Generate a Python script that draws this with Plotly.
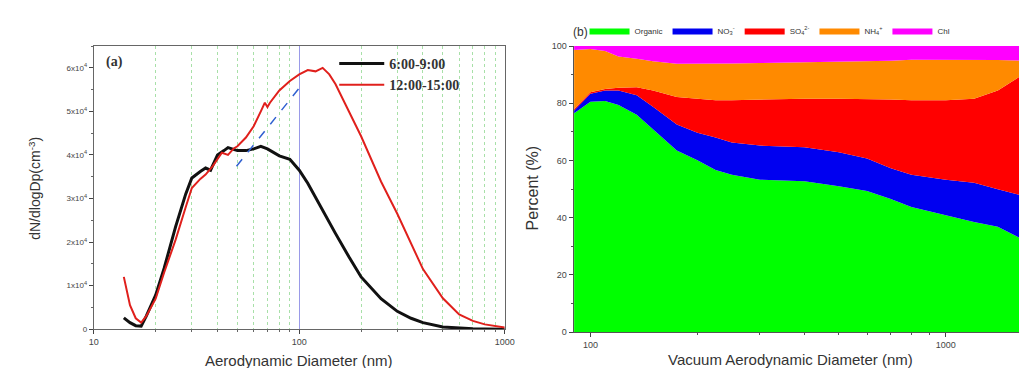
import plotly.graph_objects as go

# ---------------- Panel (a) data ----------------
black_d = [14, 15, 16, 17, 18, 20, 22, 25, 28, 30, 33, 35, 37, 40, 43, 45, 50, 55, 60, 65, 70, 75,
           80, 90, 100, 110, 120, 130, 150, 175, 200, 250, 300, 350, 400, 500, 600, 700, 800, 1000]
black_n = [2600, 1500, 800, 700, 3000, 7800, 14000, 23500, 31000, 34700, 36200, 37000, 36500, 40000,
           41000, 41700, 41000, 41000, 41400, 42000, 41400, 40500, 39800, 39000, 36500, 33500, 30200,
           27200, 22000, 16500, 12000, 7000, 4100, 2500, 1500, 500, 200, 100, 50, 0]

red_d = [14, 14.5, 15, 16, 17, 18, 20, 22, 25, 28, 30, 33, 35, 38, 40, 42, 45, 48, 50, 55, 60, 63, 65,
         68, 70, 72, 75, 80, 90, 100, 110, 120, 130, 140, 150, 175, 200, 250, 300, 400, 500, 600, 700,
         800, 900, 1000]
red_n = [12000, 8500, 5500, 2500, 1500, 3000, 7000, 13000, 20500, 28000, 32400, 34500, 35500, 37500,
         39000, 40500, 40000, 41500, 42000, 44000, 46600, 48500, 50000, 52000, 51000, 52000, 53000,
         54800, 57000, 58500, 59500, 59200, 60000, 58500, 56300, 50000, 44300, 33900, 26500, 13800,
         7100, 3400, 1900, 1100, 700, 400]

fit_d = [49.5, 105]
fit_n = [37400, 56600]

a_yticks = [0, 10000, 20000, 30000, 40000, 50000, 60000]
a_yticktext = ["0", "1x10<sup>4</sup>", "2x10<sup>4</sup>", "3x10<sup>4</sup>",
               "4x10<sup>4</sup>", "5x10<sup>4</sup>", "6x10<sup>4</sup>"]
a_xticks = [10, 100, 1000]
a_minor_grid = [20, 30, 40, 50, 60, 70, 80, 90, 200, 300, 400, 500, 600, 700, 800, 900]

# ---------------- Panel (b) data ----------------
vad = [90, 100, 110, 120, 135, 150, 175, 200, 225, 250, 300, 400, 500, 600, 700, 800, 1000, 1200,
       1400, 1650]
organic = [76.5, 80.5, 80.8, 79.4, 76.0, 70.9, 63.5, 60.1, 56.7, 55.0, 53.3, 52.7, 51.0, 49.3, 46.5,
           43.7, 40.8, 38.5, 36.8, 32.3]
no3 = [1.0, 2.8, 3.7, 5.1, 6.8, 7.9, 9.1, 9.6, 11.3, 11.3, 11.9, 11.9, 11.9, 11.4, 10.8, 11.3, 12.5,
       13.7, 13.1, 15.3]
so4 = [0.5, 0.6, 0.5, 0.9, 2.8, 5.7, 9.6, 11.9, 13.1, 14.8, 16.1, 17.0, 18.7, 20.6, 24.0, 26.1, 27.8,
       29.4, 34.6, 42.5]
nh4 = [20.6, 15.1, 13.3, 11.0, 10.0, 10.2, 11.6, 12.2, 12.8, 12.8, 12.8, 12.7, 13.1, 13.5, 13.6,
       14.1, 14.1, 13.6, 10.6, 4.8]
chl = [1.4, 1.0, 1.7, 3.6, 4.4, 5.3, 6.2, 6.2, 6.1, 6.1, 5.9, 5.7, 5.3, 5.2, 5.1, 4.8, 4.8, 4.8, 4.9,
       5.1]

b_species = ["Organic", "NO<sub>3</sub><sup>-</sup>", "SO<sub>4</sub><sup>2-</sup>",
             "NH<sub>4</sub><sup>+</sup>", "Chl"]
b_values = [organic, no3, so4, nh4, chl]
b_colors = ["#00FF00", "#0000F0", "#FF0000", "#FF8A00", "#FF00FF"]

SANS = "Liberation Sans, Arial, sans-serif"
SERIF = "Liberation Serif, Times New Roman, serif"

fig = go.Figure()

fig.add_trace(go.Scatter(x=black_d, y=black_n, mode="lines", name="<b>6:00-9:00</b>",
                         line=dict(color="#111111", width=3), xaxis="x", yaxis="y", legend="legend"))
fig.add_trace(go.Scatter(x=red_d, y=red_n, mode="lines", name="<b>12:00-15:00</b>",
                         line=dict(color="#E0201C", width=2), xaxis="x", yaxis="y", legend="legend"))
fig.add_trace(go.Scatter(x=fit_d, y=fit_n, mode="lines", showlegend=False,
                         line=dict(color="#3060D0", width=1.5, dash="dash"), xaxis="x", yaxis="y"))

for name, vals, col in zip(b_species, b_values, b_colors):
    fig.add_trace(go.Scatter(x=vad, y=vals, name=name, mode="lines", stackgroup="b",
                             line=dict(width=0, color=col), fillcolor=col,
                             xaxis="x2", yaxis="y2", legend="legend2"))

fig.update_layout(
    width=1027, height=368,
    margin=dict(l=0, r=0, t=0, b=0),
    paper_bgcolor="white", plot_bgcolor="white",
    font=dict(family=SANS, size=9, color="#333333"),
    xaxis=dict(domain=[82/1027, 499/1027], type="log", range=[1, 3], anchor="y",
               tickvals=a_xticks, ticktext=["10", "100", "1000"], ticks="outside", ticklen=4,
               showline=True, linecolor="#666666", linewidth=1.2, mirror=True,
               showgrid=True, gridcolor="#9A9AE8", gridwidth=1, zeroline=False,
               minor=dict(tickvals=a_minor_grid, showgrid=True, gridcolor="#A8E0A8",
                          griddash="dot", gridwidth=1, ticks="outside", ticklen=2,
                          tickcolor="#666666"),
               tickfont=dict(size=9, color="#444444")),
    yaxis=dict(domain=[43/368, 334/368], range=[0, 65000], anchor="x",
               tickvals=a_yticks, ticktext=a_yticktext, ticks="outside", ticklen=4,
               showline=True, linecolor="#666666", linewidth=1.2, mirror=True,
               showgrid=False, zeroline=False,
               minor=dict(dtick=5000, ticks="outside", ticklen=2, tickcolor="#666666"),
               tickfont=dict(size=8, color="#444444")),
    xaxis2=dict(domain=[569/1027, 1.0], type="log", range=[1.953, 3.2226], anchor="y2",
                tickvals=[100, 1000], ticktext=["100", "1000"], ticks="outside", ticklen=4,
                showline=True, linecolor="#555555", linewidth=1.2,
                showgrid=False, zeroline=False,
                minor=dict(tickvals=[200, 300, 400, 500, 600, 700, 800, 900],
                           ticks="outside", ticklen=2, tickcolor="#555555"),
                tickfont=dict(size=9, color="#444444")),
    yaxis2=dict(domain=[40/368, 334/368], range=[0, 100], anchor="x2",
                tickvals=[0, 20, 40, 60, 80, 100], ticks="outside", ticklen=4,
                showline=True, linecolor="#555555", linewidth=1.2,
                showgrid=False, zeroline=False,
                minor=dict(dtick=10, ticks="outside", ticklen=2, tickcolor="#555555"),
                tickfont=dict(size=9, color="#444444")),
    legend=dict(x=326/1027, y=1 - 36/368, xanchor="left", yanchor="top",
                bgcolor="rgba(0,0,0,0)", itemwidth=45, tracegroupgap=0,
                font=dict(family=SERIF, size=14, color="#333333")),
    legend2=dict(x=580/1027, y=1 - 18/368, xanchor="left", yanchor="middle",
                 orientation="h", bgcolor="rgba(0,0,0,0)", itemwidth=40, traceorder="normal",
                 font=dict(family=SANS, size=8, color="#333333")),
    showlegend=True,
)

fig.add_annotation(text="<b>(a)</b>", x=92/1027, y=1 - 50/368, xref="paper", yref="paper",
                   xanchor="left", yanchor="middle", showarrow=False,
                   font=dict(family=SERIF, size=14, color="#333333"))
fig.add_annotation(text="(b)", x=566/1027, y=1 - 20/368, xref="paper", yref="paper",
                   xanchor="left", yanchor="middle", showarrow=False,
                   font=dict(family=SANS, size=12, color="#333333"))
fig.add_annotation(text="Aerodynamic Diameter (nm)", x=290/1027, y=1 - 357/368, xref="paper",
                   yref="paper", xanchor="center", yanchor="middle", showarrow=False,
                   font=dict(family=SANS, size=15, color="#333333"))
fig.add_annotation(text="dN/dlogDp(cm<sup>-3</sup>)", x=22/1027, y=1 - 180/368, xref="paper",
                   yref="paper", xanchor="center", yanchor="middle", showarrow=False, textangle=-90,
                   font=dict(family=SANS, size=14, color="#333333"))
fig.add_annotation(text="Vacuum Aerodynamic Diameter (nm)", x=789/1027, y=1 - 356/368,
                   xref="paper", yref="paper", xanchor="center", yanchor="middle", showarrow=False,
                   font=dict(family=SANS, size=15, color="#333333"))
fig.add_annotation(text="Percent (%)", x=527/1027, y=1 - 180/368, xref="paper", yref="paper",
                   xanchor="center", yanchor="middle", showarrow=False, textangle=-90,
                   font=dict(family=SANS, size=16, color="#333333"))

fig.write_html("out.html")
